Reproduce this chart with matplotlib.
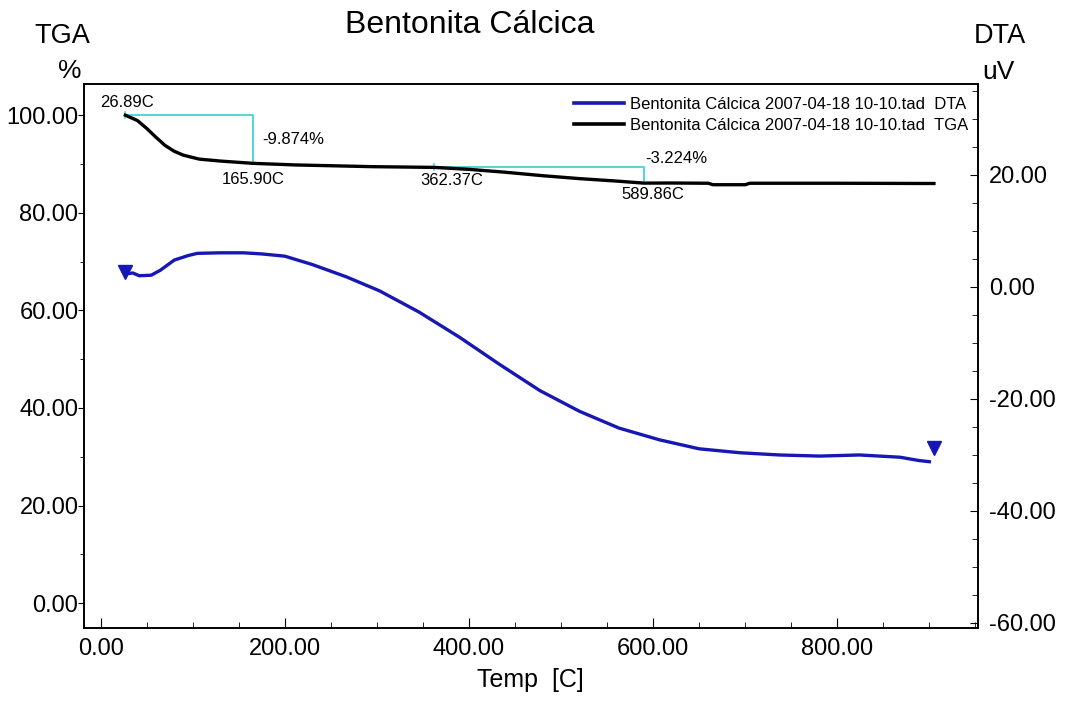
import matplotlib.pyplot as plt
from matplotlib.ticker import MultipleLocator, FormatStrFormatter

plt.rcParams['font.family'] = ['Liberation Sans', 'DejaVu Sans']

# TGA curve (weight %, left axis)
tga_temp = [26.89, 40, 50, 60, 70, 80, 90, 107, 130, 165.90, 212, 260, 295,
            362.37, 400, 440, 480, 520, 560, 589.86, 620, 660, 665, 700, 705,
            800, 905]
tga_pct = [100.0, 98.9, 97.3, 95.5, 93.8, 92.6, 91.8, 91.0, 90.6, 90.126,
           89.8, 89.6, 89.45, 89.3, 88.9, 88.3, 87.6, 87.0, 86.5, 86.08,
           86.1, 86.05, 85.75, 85.75, 86.05, 86.05, 86.0]

# DTA curve (uV, right axis)
dta_temp = [26, 35, 42, 55, 65, 80, 95, 105, 130, 155, 175, 200, 230, 267,
            303, 346, 390, 433, 477, 520, 563, 607, 650, 694, 737, 781, 824,
            868, 889, 900]
dta_uv = [2.3, 2.5, 2.0, 2.1, 3.0, 4.8, 5.6, 6.0, 6.1, 6.1, 5.9, 5.5, 4.0,
          1.8, -0.7, -4.5, -9.0, -13.8, -18.5, -22.2, -25.2, -27.3, -28.9,
          -29.6, -30.0, -30.2, -30.0, -30.4, -31.0, -31.2]

# start / end markers on the DTA trace
dta_mark_temp = [27, 905]
dta_mark_uv = [2.6, -28.8]

# weight-loss steps: (start temp, end temp, loss %)
steps = [(26.89, 165.90, -9.874), (362.37, 589.86, -3.224)]

blue = '#1717b3'
cyan = '#4fd6d6'

fig = plt.figure(figsize=(10.69, 7.02), dpi=100)
ax1 = fig.add_axes([0.0786, 0.1054, 0.8364, 0.7750])
ax2 = ax1.twinx()

ax1.plot(tga_temp, tga_pct, color='black', lw=2.4, zorder=3)
ax2.plot(dta_temp, dta_uv, color=blue, lw=2.4)
ax2.plot(dta_mark_temp, dta_mark_uv, linestyle='none', marker='v',
         markersize=10, color=blue)

# step annotations on the TGA curve
for t0, t1, loss in steps:
    y0 = tga_pct[tga_temp.index(t0)]
    y1 = y0 + loss
    ax1.plot([t0, t1, t1], [y0, y0, y1], color=cyan, lw=1.4, zorder=2)
    ax1.plot([t0, t0], [y0 - 0.6, y0 + 0.6], color=cyan, lw=1.2, zorder=2)

ann = dict(fontsize=12)
ax1.text(29, 101.0, '26.89C', ha='center', va='bottom', **ann)
ax1.text(176, 95.1, '-9.874%', ha='left', va='center', **ann)
ax1.text(165.90, 88.4, '165.90C', ha='center', va='top', **ann)
ax1.text(381, 88.2, '362.37C', ha='center', va='top', **ann)
ax1.text(600, 85.2, '589.86C', ha='center', va='top', **ann)
ax1.text(591, 89.6, '-3.224%', ha='left', va='bottom', **ann)

ax1.set_xlim(-18, 953)
ax1.set_ylim(-5.1, 106.4)
ax2.set_ylim(-60.9, 36.25)

ax1.xaxis.set_major_locator(MultipleLocator(200))
ax1.xaxis.set_minor_locator(MultipleLocator(50))
ax1.yaxis.set_major_locator(MultipleLocator(20))
ax1.yaxis.set_minor_locator(MultipleLocator(10))
ax2.yaxis.set_major_locator(MultipleLocator(20))
ax2.yaxis.set_minor_locator(MultipleLocator(5))
for axis in (ax1.xaxis, ax1.yaxis, ax2.yaxis):
    axis.set_major_formatter(FormatStrFormatter('%.2f'))

ax1.tick_params(axis='x', which='both', direction='in', top=False, pad=7,
                labelsize=17)
ax1.tick_params(axis='x', which='major', length=7)
ax1.tick_params(axis='x', which='minor', length=4)
ax1.tick_params(axis='y', which='both', direction='out', pad=0, labelsize=17)
ax1.tick_params(axis='y', which='major', length=4)
ax1.tick_params(axis='y', which='minor', length=3)
ax2.tick_params(axis='y', which='both', direction='in', pad=8, labelsize=17)
ax2.tick_params(axis='y', which='major', length=6)
ax2.tick_params(axis='y', which='minor', length=4)

for ax in (ax1, ax2):
    for sp in ax.spines.values():
        sp.set_linewidth(1.2)

fig.text(530 / 1069, 1 - 680 / 702, 'Temp  [C]', fontsize=18,
         ha='center', va='center')
fig.text(470 / 1069, 1 - 25 / 702, 'Bentonita Cálcica', fontsize=23,
         ha='center', va='center')
fig.text(62 / 1069, 1 - 36 / 702, 'TGA', fontsize=19.5, ha='center', va='center')
fig.text(70 / 1069, 1 - 71 / 702, '%', fontsize=19, ha='center', va='center')
fig.text(1000 / 1069, 1 - 36 / 702, 'DTA', fontsize=19.5, ha='center', va='center')
fig.text(998 / 1069, 1 - 72 / 702, 'uV', fontsize=19, ha='center', va='center')

h_dta, = ax2.plot([], [], color=blue, lw=2.6)
h_tga, = ax2.plot([], [], color='black', lw=2.6)
ax2.legend([h_dta, h_tga],
           ['Bentonita Cálcica 2007-04-18 10-10.tad  DTA',
            'Bentonita Cálcica 2007-04-18 10-10.tad  TGA'],
           loc='upper right', bbox_to_anchor=(1.0, 0.995), frameon=False,
           fontsize=12, handlelength=3.0, handletextpad=0.35,
           labelspacing=0.35, borderaxespad=0.2)

fig.savefig('out.png', dpi=100)
